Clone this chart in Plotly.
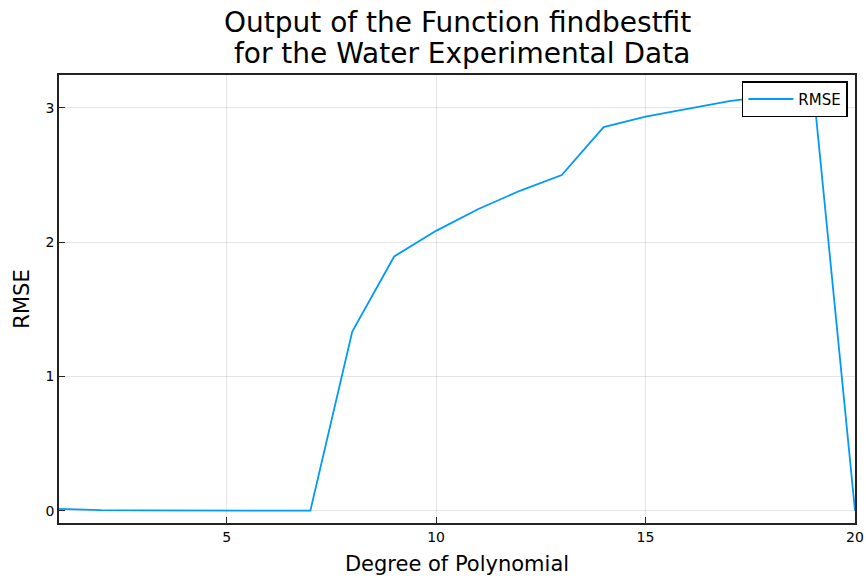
import plotly.graph_objects as go

degrees = list(range(1, 21))
rmse = [0.015, 0.006, 0.004, 0.003, 0.002, 0.002, 0.002, 1.335, 1.894, 2.085,
        2.246, 2.383, 2.50, 2.857, 2.936, 2.993, 3.05, 3.09, 3.16, 0.002]

x_ticks = [5, 10, 15, 20]
y_ticks = [0, 1, 2, 3]
title_lines = ["Output of the Function findbestfit", "\u00a0for the Water Experimental Data"]
title_shifts = [53, 22]  # pixels above the plot area top

FONT = "DejaVu Sans"

fig = go.Figure()
fig.add_trace(go.Scatter(
    x=degrees, y=rmse, mode="lines", name="RMSE",
    line=dict(color="#009AFA", width=1.8),
))

# Two-line title placed as annotations above the plot area
for line, shift in zip(title_lines, title_shifts):
    fig.add_annotation(
        text=line, xref="paper", yref="paper", x=0.5, y=1.0,
        xanchor="center", yanchor="middle", showarrow=False,
        yshift=shift,
        font=dict(family=FONT, size=28, color="black"),
    )

fig.update_layout(
    width=866, height=578,
    margin=dict(l=59, r=11, t=75, b=55),
    paper_bgcolor="white", plot_bgcolor="white",
    font=dict(family=FONT, color="black", size=14),
    showlegend=True,
    legend=dict(
        x=0.991, xanchor="right", y=0.986, yanchor="top",
        bgcolor="white", bordercolor="black", borderwidth=1.5,
        font=dict(family=FONT, size=15, color="black"),
        itemwidth=45,
    ),
    xaxis=dict(
        range=[1, 20], tickvals=x_ticks, ticktext=[str(v) for v in x_ticks],
        showgrid=True, gridcolor="rgba(0,0,0,0.1)", gridwidth=1,
        showline=True, linecolor="#222222", linewidth=1.5, mirror=True,
        ticks="inside", ticklen=6, tickcolor="#222222", tickwidth=1.2,
        zeroline=False,
        tickfont=dict(family=FONT, size=14, color="black"),
        title=dict(text="Degree of Polynomial", standoff=13,
                   font=dict(family=FONT, size=21, color="black")),
        automargin=False,
    ),
    yaxis=dict(
        range=[-0.09, 3.245], tickvals=y_ticks, ticktext=[str(v) for v in y_ticks],
        showgrid=True, gridcolor="rgba(0,0,0,0.1)", gridwidth=1,
        showline=True, linecolor="#222222", linewidth=1.5, mirror=True,
        ticks="inside", ticklen=6, tickcolor="#222222", tickwidth=1.2,
        zeroline=False,
        tickfont=dict(family=FONT, size=14, color="black"),
        title=dict(text="RMSE", standoff=10,
                   font=dict(family=FONT, size=21, color="black")),
        automargin=False,
    ),
)

fig.write_html("out.html")
